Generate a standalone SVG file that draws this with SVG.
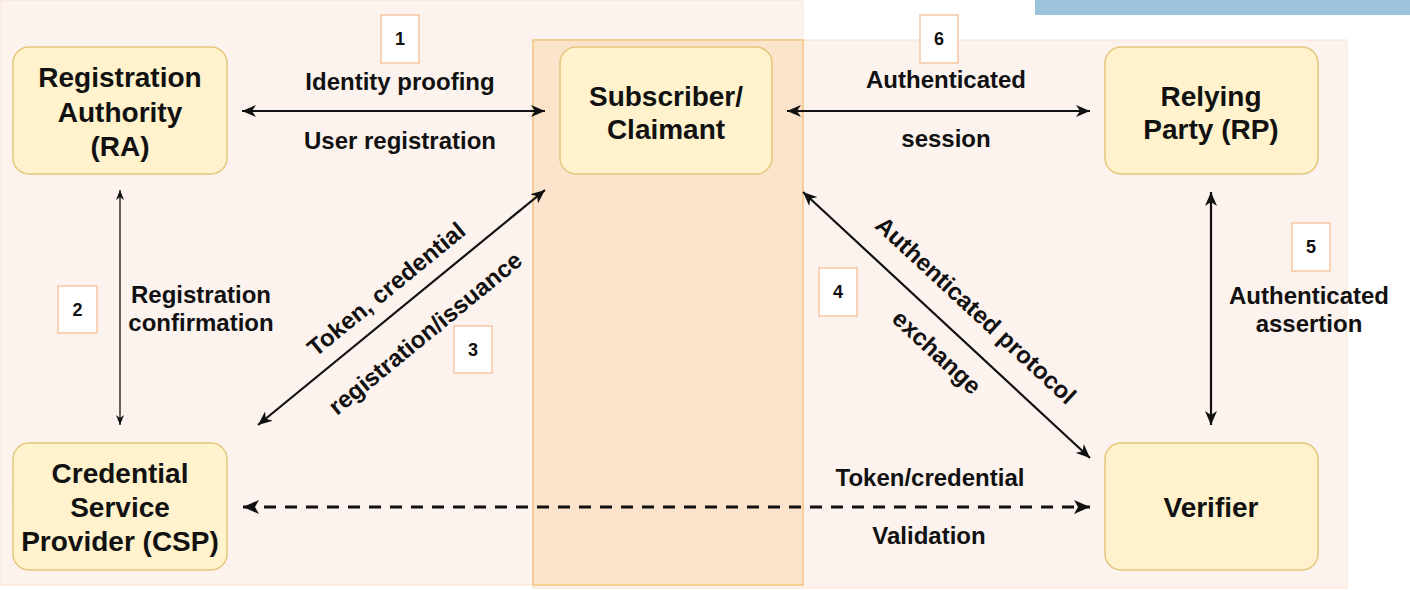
<svg xmlns="http://www.w3.org/2000/svg" width="1410" height="590" viewBox="0 0 1410 590">
<style>
.node rect{fill:#fff2cc;stroke:#e3c77a;stroke-width:1.5}
.nt{font-family:"Liberation Sans",Arial,sans-serif;font-weight:bold;font-size:28px;fill:#111;text-anchor:middle}
.lb{font-family:"Liberation Sans",Arial,sans-serif;font-weight:bold;font-size:24px;fill:#111;text-anchor:middle}
.num rect{fill:#ffffff;stroke:#f8c6a2;stroke-width:1.5}
.num text{font-family:"Liberation Sans",Arial,sans-serif;font-weight:bold;font-size:18px;fill:#111;text-anchor:middle}
.c{fill:none;stroke:#111;stroke-width:2.2}
.thin{stroke-width:1.3}
.dash{stroke-width:3;stroke-dasharray:12 9}
</style>
<defs>
<marker id="a" viewBox="0 0 14 12" refX="14" refY="6" markerWidth="14" markerHeight="12" markerUnits="userSpaceOnUse" orient="auto-start-reverse"><path d="M0,0 L14,6 L0,12 L4,6 z" fill="#111"/></marker>
<marker id="as" viewBox="0 0 10 8" refX="10" refY="4" markerWidth="10" markerHeight="8" markerUnits="userSpaceOnUse" orient="auto-start-reverse"><path d="M0,0 L10,4 L0,8 L3,4 z" fill="#111"/></marker>
<marker id="ab" viewBox="0 0 16 14" refX="16" refY="7" markerWidth="16" markerHeight="14" markerUnits="userSpaceOnUse" orient="auto-start-reverse"><path d="M0,0 L16,7 L0,14 L4,7 z" fill="#111"/></marker>
</defs>
<rect width="1410" height="590" fill="#ffffff"/>
<g id="backgrounds">
<rect x="0" y="0" width="803" height="585" fill="#fdf3ee" stroke="#fae3cf" stroke-width="1"/>
<rect x="533" y="40" width="814" height="548" fill="#fdf3ee" stroke="#fae3cf" stroke-width="1"/>
<rect x="533" y="40" width="270" height="545" fill="#fce4cc" stroke="#f0c67e" stroke-width="1.5"/>
<rect x="1035" y="0" width="375" height="15" fill="#9dc3db"/>
</g>
<g id="connectors">
<path class="c" d="M242,111 L545,111" marker-start="url(#a)" marker-end="url(#a)"/>
<path class="c" d="M787,111 L1090,111" marker-start="url(#a)" marker-end="url(#a)"/>
<path class="c thin" d="M120,190 L120,425" marker-start="url(#as)" marker-end="url(#as)"/>
<path class="c" d="M258,425 L545,190" marker-start="url(#a)" marker-end="url(#a)"/>
<path class="c" d="M803,192 L1090,458" marker-start="url(#a)" marker-end="url(#a)"/>
<path class="c" d="M1211,192 L1211,425" marker-start="url(#a)" marker-end="url(#a)"/>
<path class="c dash" d="M243,507 L1090,507" marker-start="url(#ab)" marker-end="url(#ab)"/>
</g>
<g id="labels">
<text class="lb" x="400" y="90">Identity proofing</text>
<text class="lb" x="400" y="149">User registration</text>
<text class="lb" x="946" y="88">Authenticated</text>
<text class="lb" x="946" y="147">session</text>
<text class="lb" x="201" y="303">Registration</text>
<text class="lb" x="201" y="331">confirmation</text>
<text class="lb" x="1309" y="304">Authenticated</text>
<text class="lb" x="1309" y="332">assertion</text>
<text class="lb" x="930" y="486">Token/credential</text>
<text class="lb" x="929" y="544">Validation</text>
<text class="lb" transform="translate(386,289) rotate(-39.3)" y="8.5">Token, credential</text>
<text class="lb" transform="translate(425,333) rotate(-39.3)" y="8.5">registration/issuance</text>
<text class="lb" transform="translate(976,310) rotate(42.8)" y="8.5">Authenticated protocol</text>
<text class="lb" transform="translate(937,352) rotate(42.8)" y="8.5">exchange</text>
</g>
<g id="numbers">
<g class="num" id="n1"><rect x="381" y="15" width="38" height="48"/><text x="400" y="45">1</text></g>
<g class="num" id="n6"><rect x="920" y="15" width="38" height="48"/><text x="939" y="45">6</text></g>
<g class="num" id="n2"><rect x="58" y="286" width="39" height="47"/><text x="77.5" y="316">2</text></g>
<g class="num" id="n3"><rect x="454" y="326" width="38" height="47"/><text x="473" y="356">3</text></g>
<g class="num" id="n4"><rect x="819" y="268" width="38" height="48"/><text x="838" y="298">4</text></g>
<g class="num" id="n5"><rect x="1292" y="223" width="38" height="48"/><text x="1311" y="253">5</text></g>
</g>
<g class="node" id="ra"><rect x="13" y="47" width="214" height="127" rx="16"/>
<text class="nt" x="120" y="87">Registration</text><text class="nt" x="120" y="122">Authority</text><text class="nt" x="120" y="156">(RA)</text></g>
<g class="node" id="subscriber"><rect x="560" y="47" width="212" height="127" rx="16"/>
<text class="nt" x="666" y="106">Subscriber/</text><text class="nt" x="666" y="139">Claimant</text></g>
<g class="node" id="rp"><rect x="1105" y="47" width="213" height="127" rx="16"/>
<text class="nt" x="1211" y="106">Relying</text><text class="nt" x="1211" y="139">Party (RP)</text></g>
<g class="node" id="csp"><rect x="13" y="443" width="214" height="127" rx="16"/>
<text class="nt" x="120" y="483">Credential</text><text class="nt" x="120" y="517">Service</text><text class="nt" x="120" y="551">Provider (CSP)</text></g>
<g class="node" id="verifier"><rect x="1105" y="443" width="213" height="127" rx="16"/>
<text class="nt" x="1211" y="517">Verifier</text></g>
</svg>
